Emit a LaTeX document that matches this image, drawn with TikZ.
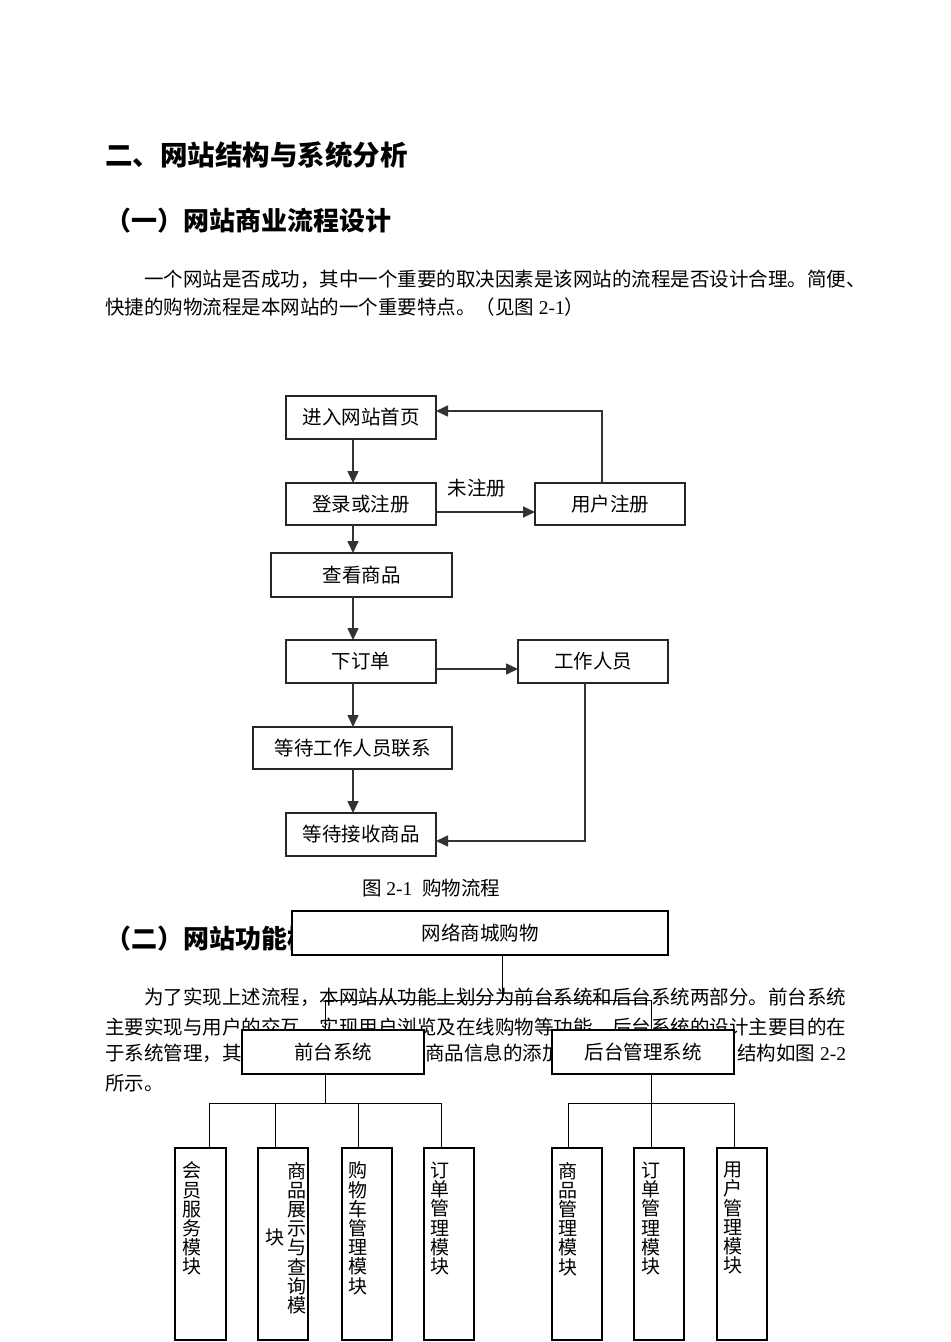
\documentclass[tikz,border=0pt]{standalone}
\usepackage{fontspec}
\setmainfont{Liberation Serif}
\newfontfamily\cjk{Noto Sans CJK SC}
\usetikzlibrary{arrows.meta}
\newcommand\bodyfont{\cjk\fontsize{9.75}{11.7}\selectfont}
\newcommand\headfont{\cjk\bfseries\fontsize{13}{15}\selectfont}
\newcommand\titlefont{\cjk\bfseries\fontsize{13.75}{16}\selectfont}
\newcommand\vfont{\cjk\fontsize{9.5}{9.6}\selectfont}
\newcommand\lat[1]{{\rmfamily #1}}
\begin{document}
\begin{tikzpicture}[x=0.5pt,y=-0.5pt,
  every node/.style={inner sep=0pt, outer sep=0pt, font=\bodyfont},
  txt/.style={anchor=west},
  fbox/.style={draw=black!85, line width=0.8pt, fill=white, align=center},
  arr/.style={draw=black!80, line width=0.8pt, -{Triangle[length=6pt,width=5.5pt]}},
  sbox/.style={draw=black, line width=0.75pt, fill=white, align=center},
  lbox/.style={draw=black, line width=0.75pt, fill=white, minimum width=25pt, minimum height=96pt},
  vtext/.style={anchor=north, align=center, font=\vfont},
  conn/.style={draw=black, line width=0.5pt}]
\useasboundingbox[fill=white] (0,0) rectangle (950,1342);

% headings and paragraphs
\node[txt, font=\titlefont] (title) at (105,155) {二、网站结构与系统分析};
\node[txt, font=\headfont] (h1) at (105,221) {（一）网站商业流程设计};
\node[txt] (p1a) at (144,279) {一个网站是否成功，其中一个重要的取决因素是该网站的流程是否设计合理。简便、};
\node[txt] (p1b) at (105,307) {快捷的购物流程是本网站的一个重要特点。（见图\lat{ 2-1}）};

% flowchart 2-1
\node[fbox, minimum width=75pt, minimum height=21.5pt] (n1) at (361,417.5) {进入网站首页};
\node[fbox, minimum width=75pt, minimum height=21pt] (n2) at (361,504) {登录或注册};
\node[fbox, minimum width=75pt, minimum height=21pt] (n3) at (610,504) {用户注册};
\node[fbox, minimum width=90.5pt, minimum height=22pt] (n4) at (361.5,575) {查看商品};
\node[fbox, minimum width=75pt, minimum height=21.5pt] (n5) at (361,661.5) {下订单};
\node[fbox, minimum width=75pt, minimum height=21.5pt] (n6) at (593,661.5) {工作人员};
\node[fbox, minimum width=99.5pt, minimum height=21pt] (n7) at (352.5,748) {等待工作人员联系};
\node[fbox, minimum width=75pt, minimum height=21.5pt] (n8) at (361,834.5) {等待接收商品};
\node (lab) at (477,488) {未注册};

\coordinate (vx) at (353,0);
\draw[arr] (n1.south -| vx) -- (n2.north -| vx);
\draw[arr] (n2.south -| vx) -- (n4.north -| vx);
\draw[arr] (n4.south -| vx) -- (n5.north -| vx);
\draw[arr] (n5.south -| vx) -- (n7.north -| vx);
\draw[arr] (n7.south -| vx) -- (n8.north -| vx);
\coordinate (h2) at (0,512);
\draw[arr] (n2.east |- h2) -- (n3.west |- h2);
\coordinate (r1) at (602,411);
\draw[arr] (n3.north -| r1) -- (r1) -- (n1.east |- r1);
\coordinate (h5) at (0,669);
\draw[arr] (n5.east |- h5) -- (n6.west |- h5);
\coordinate (r2) at (585,841);
\draw[arr] (n6.south -| r2) -- (r2) -- (n8.east |- r2);

\node[txt] (cap) at (362,888) {图\lat{ 2-1\ \ }购物流程};

% section 2 text
\node[txt, font=\headfont] (h2t) at (105,939) {（二）网站功能模块设计};
\node[txt] (p2a) at (144,997) {为了实现上述流程，本网站从功能上划分为前台系统和后台系统两部分。前台系统};
\node[txt] (p2b) at (105,1027) {主要实现与用户的交互，实现用户浏览及在线购物等功能，后台系统的设计主要目的在};
\node[txt] (p2c) at (105,1053) {于系统管理，其};
\node[txt] (p2d) at (425,1053) {商品信息的添加};
\node[anchor=east] (p2e) at (846,1053) {结构如图\lat{ 2-2}};
\node[txt] (p2f) at (105,1083) {所示。};

% structure diagram 2-2
\node[sbox, minimum width=188pt, minimum height=22pt] (m0) at (480,933) {网络商城购物};
\node[sbox, minimum width=91pt, minimum height=22pt] (m1) at (333,1052) {前台系统};
\node[sbox, minimum width=91pt, minimum height=22pt] (m2) at (643,1052) {后台管理系统};

\node[lbox, minimum width=25.5pt] (L1) at (200.5,1244) {};
\node[lbox] (L2) at (283,1244) {};
\node[lbox] (L3) at (367,1244) {};
\node[lbox] (L4) at (449,1244) {};
\node[lbox] (R1) at (577,1244) {};
\node[lbox] (R2) at (659,1244) {};
\node[lbox] (R3) at (742,1244) {};

\node[vtext] (t1) at (192,1162) {会\\员\\服\\务\\模\\块};
\node[vtext] (t2) at (297,1162) {商\\品\\展\\示\\与\\查\\询\\模};
\node (t2b) at (275,1237) {\vfont 块};
\node[vtext] (t3) at (358,1162) {购\\物\\车\\管\\理\\模\\块};
\node[vtext] (t4) at (440,1162) {订\\单\\管\\理\\模\\块};
\node[vtext] (t5) at (568,1162) {商\\品\\管\\理\\模\\块};
\node[vtext] (t6) at (651,1162) {订\\单\\管\\理\\模\\块};
\node[vtext] (t7) at (733,1162) {用\\户\\管\\理\\模\\块};

\coordinate (j0) at (502,1000);
\coordinate (jL) at (325,1000);
\coordinate (jR) at (651,1000);
\draw[conn] (m0.south -| j0) -- (j0);
\draw[conn] (m1.north -| jL) -- (jL) -- (jR) -- (m2.north -| jR);
\coordinate (bL) at (325,1103);
\coordinate (bR) at (651,1103);
\draw[conn] (m1.south -| bL) -- (bL);
\draw[conn] (m2.south -| bR) -- (bR);
\coordinate (a1) at (209,1103);
\coordinate (a2) at (275,1103);
\coordinate (a3) at (358,1103);
\coordinate (a4) at (441,1103);
\draw[conn] (L1.north -| a1) -- (a1) -- (a4) -- (L4.north -| a4);
\draw[conn] (a2) -- (L2.north -| a2);
\draw[conn] (a3) -- (L3.north -| a3);
\coordinate (b1) at (568,1103);
\coordinate (b2) at (651,1103);
\coordinate (b3) at (734,1103);
\draw[conn] (R1.north -| b1) -- (b1) -- (b3) -- (R3.north -| b3);
\draw[conn] (b2) -- (R2.north -| b2);
\end{tikzpicture}
\end{document}
